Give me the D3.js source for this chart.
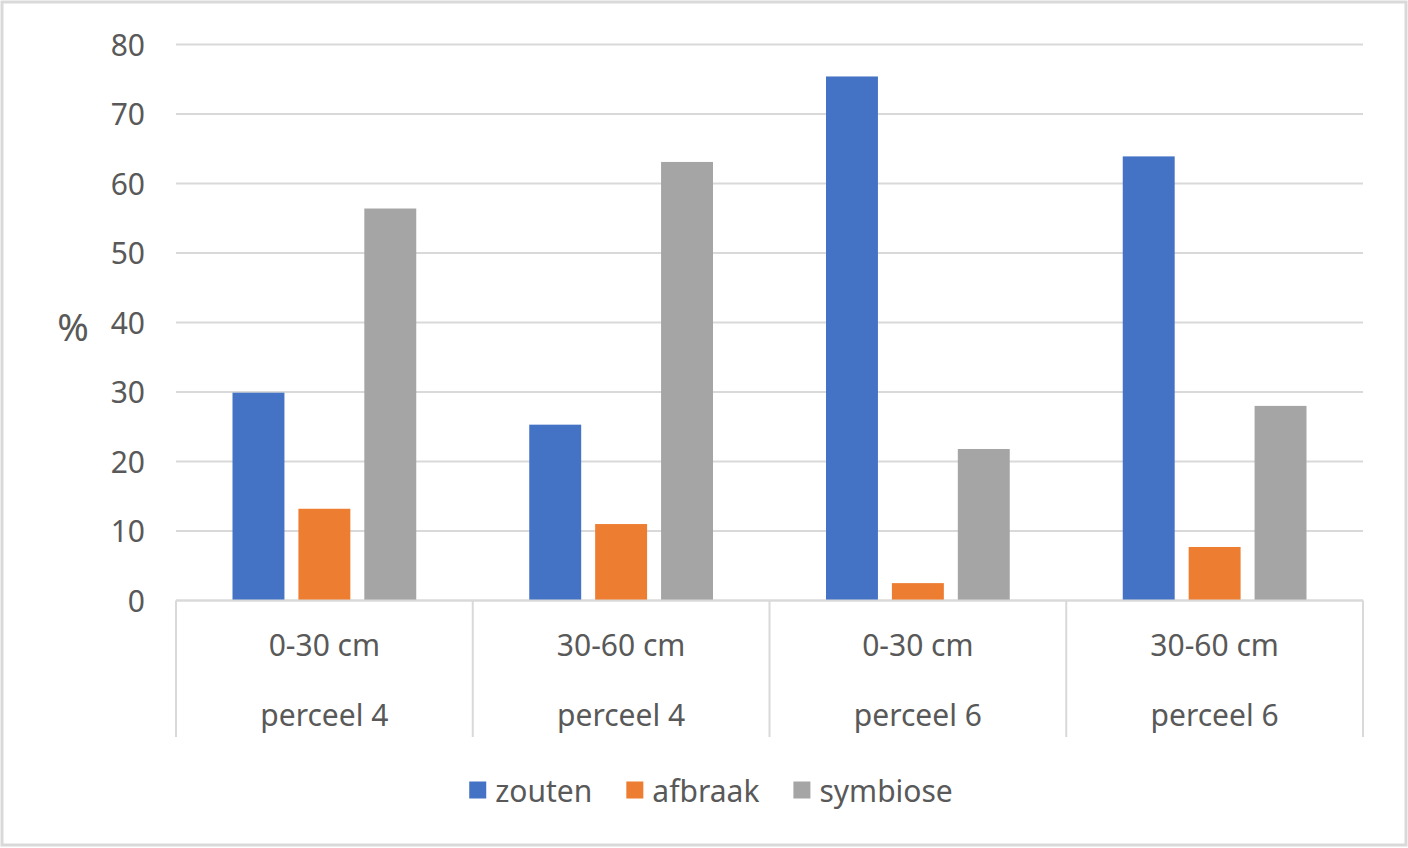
<!DOCTYPE html>
<html>
<head>
<meta charset="utf-8">
<script src="https://cdn.jsdelivr.net/npm/d3@7"></script>
<style>
  html, body { margin: 0; padding: 0; background: #fff; }
  svg { display: block; }
  text { font-family: "Noto Sans", "Open Sans", sans-serif; fill: #595959; }
</style>
</head>
<body>
<svg id="chart" width="1408" height="848"></svg>
<script>
const depths = ["0-30 cm", "30-60 cm", "0-30 cm", "30-60 cm"];
const plots = ["perceel 4", "perceel 4", "perceel 6", "perceel 6"];
const seriesNames = ["zouten", "afbraak", "symbiose"];
const zouten = [29.9, 25.3, 75.4, 63.9];
const afbraak = [13.2, 11.0, 2.5, 7.7];
const symbiose = [56.4, 63.1, 21.8, 28.0];
const seriesColors = ["#4472C4", "#ED7D31", "#A5A5A5"];
const yTicks = [0, 10, 20, 30, 40, 50, 60, 70, 80];
const yTitle = "%";

const seriesValues = [zouten, afbraak, symbiose];
const catKeys = depths.map((d, i) => i);
const FS = 30;

const svg = d3.select("#chart");
const W = 1408, H = 848;

// outer chart border
svg.append("rect")
  .attr("x", 2).attr("y", 2).attr("width", W - 4).attr("height", H - 5)
  .attr("fill", "#fff").attr("stroke", "#d9d9d9").attr("stroke-width", 3);

const plotLeft = 176, plotRight = 1363, plotTop = 44.5, plotBottom = 600.5;
const catAxisBottom = 737;

const y = d3.scaleLinear().domain([0, 80]).range([plotBottom, plotTop]);
const x0 = d3.scaleBand().domain(catKeys).range([plotLeft, plotRight]).padding(0);
const outerPad = 56.5;
const x1 = d3.scaleBand().domain(seriesNames)
  .range([outerPad, x0.bandwidth() - outerPad]).paddingInner(0.212);

// gridlines
svg.append("g").selectAll("line").data(yTicks).join("line")
  .attr("x1", plotLeft).attr("x2", plotRight)
  .attr("y1", d => y(d)).attr("y2", d => y(d))
  .attr("stroke", "#d9d9d9").attr("stroke-width", 2);

// y axis labels via d3 axis
const yAxis = d3.axisLeft(y).tickValues(yTicks).tickSize(0).tickPadding(0);
const yg = svg.append("g").attr("transform", `translate(145,0)`).call(yAxis);
yg.select(".domain").remove();
yg.selectAll("text")
  .attr("font-size", FS).attr("fill", "#595959")
  .style("font-family", '"Noto Sans", sans-serif')
  .attr("dy", "0.35em");

// y title
svg.append("text").attr("x", 73).attr("y", 326)
  .attr("text-anchor", "middle").attr("dominant-baseline", "central")
  .attr("font-size", 38).text(yTitle);

// bars
const groups = svg.append("g").selectAll("g").data(catKeys).join("g")
  .attr("transform", d => `translate(${x0(d)},0)`);
groups.selectAll("rect")
  .data(ci => seriesNames.map((s, si) => ({ s, v: seriesValues[si][ci], c: seriesColors[si] })))
  .join("rect")
  .attr("x", d => x1(d.s))
  .attr("width", x1.bandwidth())
  .attr("y", d => y(d.v))
  .attr("height", d => y(0) - y(d.v))
  .attr("fill", d => d.c);

// baseline
svg.append("line")
  .attr("x1", plotLeft).attr("x2", plotRight)
  .attr("y1", y(0)).attr("y2", y(0))
  .attr("stroke", "#d9d9d9").attr("stroke-width", 2);

// category separators
const bounds = catKeys.map(k => x0(k)).concat([x0(catKeys[catKeys.length - 1]) + x0.bandwidth()]);
svg.append("g").selectAll("line").data(bounds).join("line")
  .attr("x1", d => d).attr("x2", d => d)
  .attr("y1", y(0)).attr("y2", catAxisBottom)
  .attr("stroke", "#d9d9d9").attr("stroke-width", 2);

// category labels
const labG = svg.append("g");
labG.selectAll("text.depth").data(catKeys).join("text")
  .attr("class", "depth")
  .attr("x", d => x0(d) + x0.bandwidth() / 2)
  .attr("y", 656)
  .attr("text-anchor", "middle").attr("font-size", FS)
  .text(d => depths[d]);
labG.selectAll("text.plot").data(catKeys).join("text")
  .attr("class", "plot")
  .attr("x", d => x0(d) + x0.bandwidth() / 2)
  .attr("y", 726)
  .attr("text-anchor", "middle").attr("font-size", FS)
  .text(d => plots[d]);

// legend
const lg = svg.append("g");
const sq = 17, gapTxt = 9, gapItem = 34;
let cx = 0;
seriesNames.forEach((s, i) => {
  const it = lg.append("g");
  it.append("rect").attr("x", 0).attr("y", -sq / 2).attr("width", sq).attr("height", sq)
    .attr("fill", seriesColors[i]);
  const t = it.append("text").attr("x", sq + gapTxt).attr("y", 0)
    .attr("dominant-baseline", "central").attr("font-size", FS).text(s);
  const w = sq + gapTxt + t.node().getComputedTextLength();
  it.attr("transform", `translate(${cx},0)`);
  cx += w + gapItem;
});
const totalW = cx - gapItem;
lg.attr("transform", `translate(${711 - totalW / 2},790)`);
</script>
</body>
</html>
